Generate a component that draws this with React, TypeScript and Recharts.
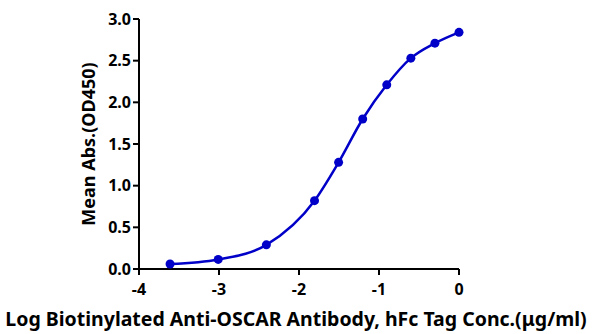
import React from "react";
import { LineChart, Line, XAxis, YAxis, Label } from "recharts";

const logConc = [-3.612, -3.01, -2.408, -1.806, -1.505, -1.204, -0.903, -0.602, -0.301, 0];
const meanAbs = [0.06, 0.115, 0.29, 0.82, 1.28, 1.8, 2.21, 2.53, 2.71, 2.84];
const xTicks = [-4, -3, -2, -1, 0];
const yTicks = [0, 0.5, 1, 1.5, 2, 2.5, 3];
const xTitle = "Log Biotinylated Anti-OSCAR Antibody, hFc Tag Conc.(μg/ml)";
const yTitle = "Mean Abs.(OD450)";

const data = logConc.map((x, i) => ({ x, y: meanAbs[i] }));

const FONT = "'Noto Sans', 'Open Sans', sans-serif";
const BLUE = "#0000C8";

export default function App() {
  return (
    <div style={{ position: "absolute", left: 0, top: 0, width: 592, height: 334, background: "#fff" }}>
      <LineChart width={592} height={334} data={data} margin={{ top: 19, right: 133, left: 79, bottom: 35 }}>
        <XAxis
          dataKey="x"
          type="number"
          domain={[-4, 0]}
          ticks={xTicks}
          tickFormatter={(v: number) => String(v)}
          axisLine={{ stroke: "#000", strokeWidth: 2 }}
          tickLine={{ stroke: "#000", strokeWidth: 2 }}
          tickSize={6}
          tickMargin={9}
          tick={{ fill: "#000", fontSize: 16, fontWeight: 700, fontFamily: FONT }}
          height={30}
          interval={0}
        >
          <Label
            content={() => (
              <text
                x={296}
                y={326}
                textAnchor="middle"
                fontSize={19.5}
                fontWeight={700}
                fontFamily={FONT}
                fill="#000"
              >
                {xTitle}
              </text>
            )}
          />
        </XAxis>
        <YAxis
          type="number"
          domain={[0, 3]}
          ticks={yTicks}
          tickFormatter={(v: number) => v.toFixed(1)}
          axisLine={{ stroke: "#000", strokeWidth: 2 }}
          tickLine={{ stroke: "#000", strokeWidth: 2 }}
          tickSize={6}
          tick={{ fill: "#000", fontSize: 16, fontWeight: 700, fontFamily: FONT }}
          width={60}
          interval={0}
        >
          <Label
            content={() => (
              <text
                x={95}
                y={144}
                transform="rotate(-90 95 144)"
                textAnchor="middle"
                fontSize={18}
                fontWeight={700}
                fontFamily={FONT}
                fill="#000"
              >
                {yTitle}
              </text>
            )}
          />
        </YAxis>
        <Line
          type="monotone"
          dataKey="y"
          stroke={BLUE}
          strokeWidth={2.5}
          dot={{ r: 4.5, fill: BLUE, stroke: BLUE, strokeWidth: 0 }}
          isAnimationActive={false}
        />
      </LineChart>
    </div>
  );
}
